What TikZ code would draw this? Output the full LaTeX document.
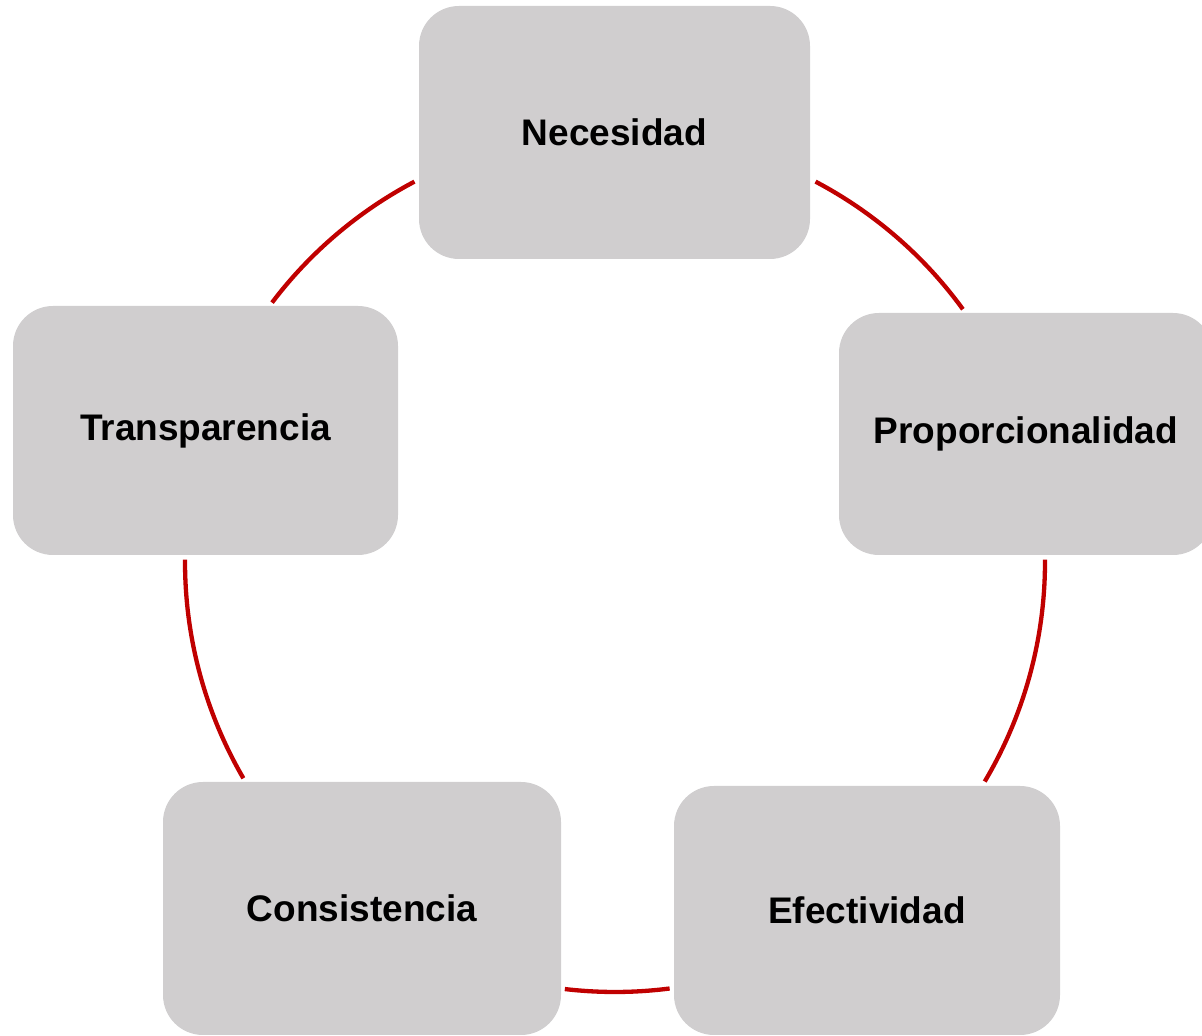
\documentclass[tikz,border=0pt]{standalone}
\usepackage{fontspec}
\setmainfont{Liberation Sans}
\usetikzlibrary{calc}
\definecolor{boxgray}{HTML}{D0CECF}
\definecolor{linkred}{HTML}{C00000}
\begin{document}
\begin{tikzpicture}[x=1pt,y=1pt,
  pbox/.style={fill=boxgray, rounded corners=40pt, inner sep=0pt,
    font=\fontsize{37}{44}\selectfont\bfseries, text=black},
  link/.style={draw=linkred, line width=4.3pt}]
\useasboundingbox (0,0) rectangle (1202,1036);
\clip (0,0) rectangle (1202,1036);
\coordinate (O) at (615,474);
\node[pbox, minimum width=391pt, minimum height=253pt] (nec) at (614.5,903.5) {Necesidad};
\node[pbox, minimum width=374pt, minimum height=242pt] (pro) at (1026,602) {Proporcionalidad};
\node[pbox, minimum width=386pt, minimum height=249pt] (efe) at (867,125.5) {Efectividad};
\node[pbox, minimum width=398pt, minimum height=253pt] (con) at (362,127.5) {Consistencia};
\node[pbox, minimum width=385pt, minimum height=249pt] (tra) at (205.5,605.5) {Transparencia};
\draw[link] ($(O)+(62.2:430)$) arc[start angle=62.2, end angle=36.0, radius=430];
\draw[link] ($(O)+(0.3:430)$) arc[start angle=0.3, end angle=-30.7, radius=430];
\draw[link] ($(O)+(-82.7:430)$) arc[start angle=-82.7, end angle=-96.7, radius=430];
\draw[link] ($(O)+(210.2:430)$) arc[start angle=210.2, end angle=179.7, radius=430];
\draw[link] ($(O)+(142.9:430)$) arc[start angle=142.9, end angle=117.8, radius=430];
\end{tikzpicture}
\end{document}
